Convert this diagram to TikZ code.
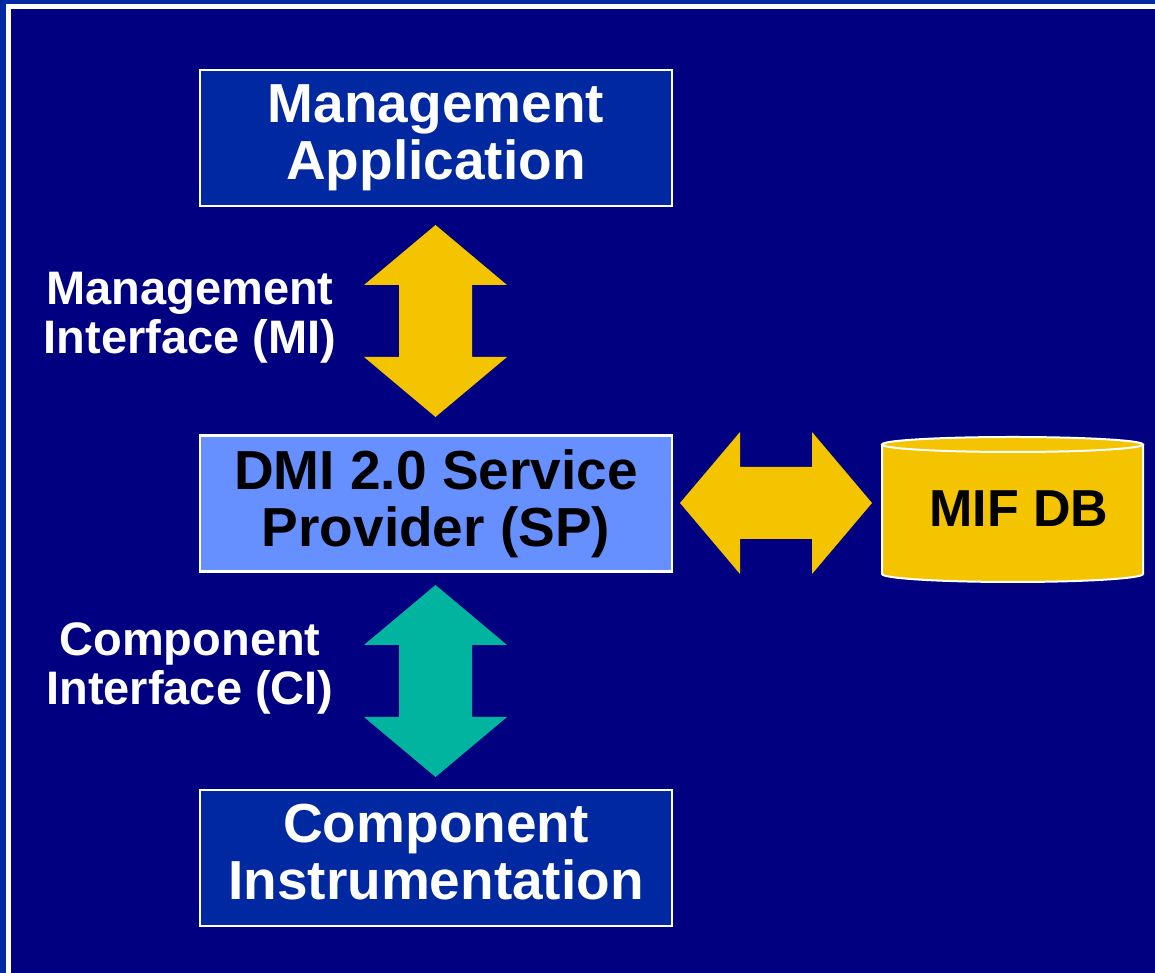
\documentclass[tikz,border=0pt]{standalone}
\usepackage{fontspec}
\setmainfont{Liberation Sans}
\definecolor{outerblue}{RGB}{0,40,160}
\definecolor{navybg}{RGB}{0,0,128}
\definecolor{boxblue}{RGB}{0,40,160}
\definecolor{spblue}{RGB}{102,144,255}
\definecolor{arrowyellow}{RGB}{245,196,0}
\definecolor{arrowteal}{RGB}{0,180,160}
\tikzset{
  mainbox/.style={draw=white, line width=2.2pt, minimum width=472pt, minimum height=136pt,
    align=center, inner sep=0pt, font=\fontsize{55}{57}\selectfont\bfseries},
  sidelabel/.style={text=white, align=center, inner sep=0pt, font=\fontsize{47}{49}\selectfont\bfseries},
  blockarrow/.style={draw=none}
}
\begin{document}
\begin{tikzpicture}[x=1pt,y=1pt]
\useasboundingbox (0,0) rectangle (1155,973);
\clip (0,0) rectangle (1155,973);
% frame
\fill[outerblue] (0,0) rectangle (1155,973);
\fill[white] (6,-10) rectangle (1170,969);
\fill[navybg] (11,-10) rectangle (1170,964);
% boxes
\node[mainbox, fill=boxblue, text=white] (ma) at (436,835) {Management\\Application\vphantom{p}};
\node[mainbox, fill=spblue, text=black] (sp) at (436,469.5) {DMI 2.0 Service\\Provider (SP)};
\node[mainbox, fill=boxblue, text=white] (ci) at (436,115) {Component\\Instrumentation\vphantom{p}};
% labels
\node[sidelabel] (milabel) at (190,655.4) {Management\\Interface (MI)};
\node[sidelabel] (cilabel) at (190,304.3) {Component\\Interface (CI)};
% MI double arrow
\fill[arrowyellow] (435.5,748) -- (507,688) -- (472,688) -- (472,616) -- (507,616) -- (435.5,556)
  -- (364,616) -- (399,616) -- (399,688) -- (364,688) -- cycle;
% CI double arrow
\fill[arrowteal] (435.5,388) -- (507,328) -- (472,328) -- (472,256) -- (507,256) -- (435.5,196)
  -- (364,256) -- (399,256) -- (399,328) -- (364,328) -- cycle;
% horizontal arrow to DB
\fill[arrowyellow] (680,470) -- (740,541) -- (740,506) -- (812,506) -- (812,541) -- (872,470)
  -- (812,399) -- (812,434) -- (740,434) -- (740,399) -- cycle;
% cylinder
\fill[arrowyellow] (882,528.5) -- (882,399) arc[start angle=180,end angle=360,x radius=130.5,y radius=8]
  -- (1143,528.5) arc[start angle=0,end angle=180,x radius=130.5,y radius=7.5] -- cycle;
\draw[white, line width=2pt] (882,528.5) -- (882,399) arc[start angle=180,end angle=360,x radius=130.5,y radius=8]
  -- (1143,528.5);
\draw[white, line width=2pt] (1012.5,528.5) ellipse[x radius=130.5,y radius=7.5];
\node[anchor=base, inner sep=0pt, font=\fontsize{52}{54}\selectfont\bfseries] (db) at (1019,446) {MIF DB};
\end{tikzpicture}
\end{document}
